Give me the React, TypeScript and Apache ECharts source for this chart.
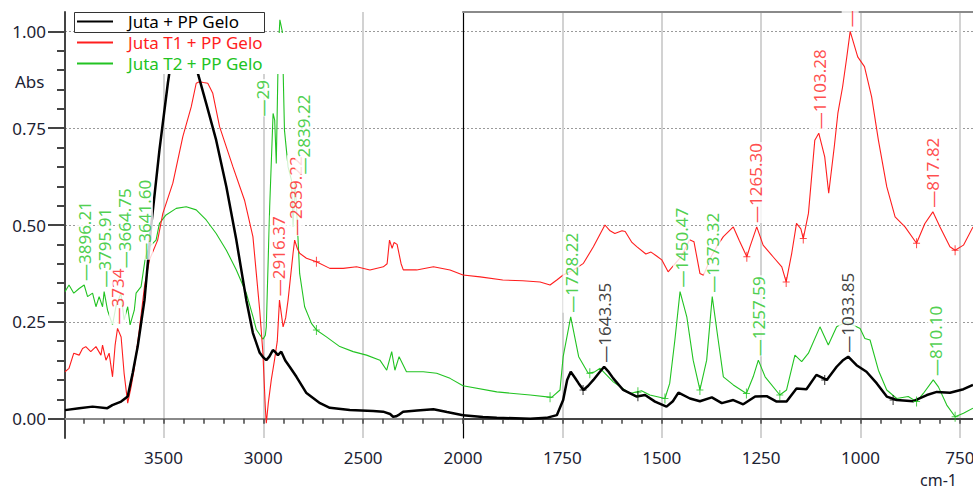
import React, { useEffect, useRef } from 'react';
import * as echarts from 'echarts';

const FONT = '"Noto Sans", "DejaVu Sans", sans-serif';
const BLACK = '#000000';
const RED = '#ff1e1e';
const GREEN = '#22c322';
const TEXT = '#1c2233';

const seriesNames = ['Juta + PP Gelo', 'Juta T1 + PP Gelo', 'Juta T2 + PP Gelo'];

// wavenumber (cm-1), absorbance
const jutaPP: number[][] = [
  [3993, 0.022], [3922, 0.027], [3855, 0.031], [3781, 0.027], [3756, 0.035], [3712, 0.044],
  [3679, 0.057], [3654, 0.118], [3629, 0.186], [3595, 0.306], [3562, 0.495], [3520, 0.694],
  [3478, 0.866], [3461, 0.926], [3440, 1.0], [3405, 1.04], [3370, 0.99], [3328, 0.892],
  [3286, 0.814], [3236, 0.719], [3185, 0.599], [3135, 0.461], [3085, 0.306], [3052, 0.221],
  [3018, 0.17], [3000, 0.158], [2985, 0.151], [2970, 0.16], [2952, 0.177], [2940, 0.172],
  [2927, 0.164], [2910, 0.173], [2890, 0.15], [2868, 0.134], [2834, 0.108], [2784, 0.066],
  [2716, 0.04], [2667, 0.028], [2567, 0.022], [2450, 0.02], [2400, 0.018], [2365, 0.012],
  [2350, 0.005], [2335, 0.006], [2324, 0.009], [2300, 0.018], [2230, 0.021], [2148, 0.024],
  [2080, 0.017], [2000, 0.009],
  [1950, 0.004], [1915, 0.002], [1831, 0.0], [1790, 0.002], [1764, 0.009], [1748, 0.048],
  [1738, 0.1], [1729, 0.121], [1718, 0.105], [1709, 0.091], [1697, 0.074], [1685, 0.085],
  [1672, 0.1], [1658, 0.118], [1645, 0.134], [1633, 0.12], [1622, 0.104], [1597, 0.074],
  [1563, 0.057], [1542, 0.061], [1517, 0.044], [1488, 0.031], [1472, 0.045], [1458, 0.067],
  [1429, 0.052], [1404, 0.045], [1374, 0.055], [1349, 0.04], [1320, 0.048], [1295, 0.037],
  [1265, 0.057], [1236, 0.058], [1211, 0.044], [1186, 0.044], [1161, 0.078], [1136, 0.076],
  [1111, 0.113], [1085, 0.1], [1060, 0.134], [1045, 0.15], [1031, 0.16], [1010, 0.138],
  [985, 0.121], [959, 0.091], [934, 0.057], [909, 0.048], [867, 0.045], [833, 0.061],
  [808, 0.069], [775, 0.067], [741, 0.076], [717, 0.087],
];

const jutaT1PP: number[][] = [
  [3993, 0.121], [3973, 0.13], [3949, 0.169], [3922, 0.164], [3905, 0.181], [3889, 0.186],
  [3864, 0.173], [3838, 0.186], [3813, 0.164], [3805, 0.19], [3788, 0.151], [3772, 0.169],
  [3755, 0.108], [3742, 0.19], [3730, 0.233], [3712, 0.211], [3697, 0.117], [3679, 0.04],
  [3662, 0.082], [3646, 0.13], [3621, 0.229], [3595, 0.341], [3570, 0.41], [3529, 0.461],
  [3503, 0.53], [3453, 0.608], [3403, 0.728], [3361, 0.805], [3336, 0.866], [3320, 0.87],
  [3300, 0.868], [3278, 0.866], [3253, 0.84], [3219, 0.754], [3152, 0.65], [3094, 0.564],
  [3052, 0.47], [3035, 0.375], [3018, 0.28], [3002, 0.17], [2990, 0.03], [2985, -0.012],
  [2975, 0.04], [2960, 0.1], [2944, 0.151], [2930, 0.2], [2919, 0.306], [2901, 0.237],
  [2888, 0.26], [2876, 0.306], [2851, 0.427], [2843, 0.461], [2830, 0.44], [2818, 0.427],
  [2784, 0.414], [2734, 0.405], [2667, 0.388], [2600, 0.388], [2533, 0.392], [2466, 0.384],
  [2399, 0.392], [2380, 0.4], [2368, 0.461], [2355, 0.44], [2345, 0.455], [2330, 0.45],
  [2310, 0.4], [2299, 0.384], [2232, 0.384], [2148, 0.392], [2065, 0.384], [2000, 0.371],
  [1957, 0.366], [1900, 0.358], [1850, 0.356], [1806, 0.353], [1781, 0.345], [1764, 0.358],
  [1748, 0.371], [1720, 0.385], [1697, 0.401], [1672, 0.444], [1643, 0.5], [1630, 0.485],
  [1618, 0.478], [1600, 0.485], [1592, 0.483], [1575, 0.455], [1563, 0.444], [1540, 0.425],
  [1527, 0.43], [1513, 0.42], [1500, 0.41], [1484, 0.379], [1450, 0.42], [1430, 0.462],
  [1419, 0.457], [1404, 0.375], [1395, 0.37], [1375, 0.42], [1358, 0.45], [1345, 0.47],
  [1320, 0.495], [1305, 0.46], [1286, 0.418], [1278, 0.444], [1261, 0.495], [1245, 0.448],
  [1220, 0.418], [1198, 0.392], [1187, 0.353], [1173, 0.427], [1161, 0.504], [1150, 0.49],
  [1144, 0.465], [1131, 0.53], [1115, 0.719], [1105, 0.737], [1090, 0.676], [1080, 0.582],
  [1066, 0.702], [1057, 0.788], [1045, 0.857], [1035, 0.93], [1026, 1.0], [1007, 0.934],
  [990, 0.909], [972, 0.831], [955, 0.719], [934, 0.599], [913, 0.521], [888, 0.495],
  [859, 0.453], [838, 0.504], [818, 0.534], [800, 0.495], [775, 0.444], [762, 0.435],
  [741, 0.448], [717, 0.495],
];

const jutaT2PP: number[][] = [
  [3993, 0.328], [3973, 0.345], [3949, 0.324], [3922, 0.336], [3897, 0.345], [3880, 0.315],
  [3855, 0.324], [3838, 0.289], [3822, 0.315], [3805, 0.289], [3797, 0.328], [3780, 0.28],
  [3755, 0.242], [3738, 0.289], [3713, 0.324], [3697, 0.255], [3679, 0.289], [3667, 0.242],
  [3646, 0.28], [3637, 0.324], [3612, 0.341], [3590, 0.418], [3570, 0.444], [3537, 0.461],
  [3520, 0.504], [3487, 0.526], [3436, 0.543], [3386, 0.547], [3336, 0.539], [3286, 0.513],
  [3236, 0.478], [3185, 0.435], [3135, 0.384], [3085, 0.324], [3050, 0.26], [3035, 0.23],
  [3002, 0.205], [2990, 0.215], [2985, 0.237], [2968, 0.547], [2951, 0.788], [2943, 0.771],
  [2935, 0.659], [2925, 0.95], [2917, 1.03], [2905, 1.0], [2894, 0.745], [2876, 0.65],
  [2859, 0.616], [2851, 0.495], [2841, 0.608], [2834, 0.55], [2818, 0.375], [2793, 0.289],
  [2759, 0.246], [2734, 0.229], [2684, 0.211], [2617, 0.186], [2550, 0.173], [2483, 0.164],
  [2416, 0.151], [2382, 0.125], [2357, 0.173], [2341, 0.125], [2320, 0.16], [2283, 0.121],
  [2199, 0.121], [2132, 0.117], [2065, 0.104], [2000, 0.085],
  [1915, 0.069], [1831, 0.061], [1777, 0.055], [1756, 0.074], [1748, 0.16], [1729, 0.263],
  [1709, 0.16], [1685, 0.117], [1670, 0.12], [1655, 0.13], [1622, 0.095], [1580, 0.065],
  [1551, 0.072], [1530, 0.061], [1492, 0.052], [1480, 0.091], [1467, 0.203], [1454, 0.328],
  [1437, 0.263], [1421, 0.151], [1404, 0.074], [1387, 0.151], [1373, 0.315], [1358, 0.203],
  [1345, 0.108], [1320, 0.087], [1287, 0.065], [1270, 0.108], [1257, 0.151], [1240, 0.108],
  [1203, 0.061], [1186, 0.074], [1165, 0.164], [1148, 0.147], [1131, 0.169], [1102, 0.237],
  [1081, 0.19], [1060, 0.237], [1035, 0.25], [1001, 0.233], [989, 0.207], [976, 0.203],
  [955, 0.125], [934, 0.074], [909, 0.052], [880, 0.057], [859, 0.044], [842, 0.065],
  [817, 0.1], [804, 0.082], [783, 0.035], [762, 0.005], [741, 0.014], [717, 0.027],
];

// peak labels: [anchor wavenumber, anchor absorbance, text]
const peaksJuta: [number, number, string][] = [
  [1643.35, 0.134, '1643.35'],
  [1033.85, 0.16, '1033.85'],
];
const peaksT1: [number, number, string][] = [
  [3730, 0.233, '3734'],
  [2925, 0.306, '2916.37'],
  [2839.22, 0.461, '2839.22'],
  [1265.3, 0.495, '1265.30'],
  [1103.28, 0.737, '1103.28'],
  [817.82, 0.534, '817.82'],
  [1026, 1.0, ''],
];
const peaksT2: [number, number, string][] = [
  [3896.21, 0.345, '3896.21'],
  [3795.91, 0.328, '3795.91'],
  [3694, 0.378, '3664.75'],
  [3595, 0.4, '3641.60'],
  [3003, 0.77, '29'],
  [2797, 0.62, '2839.22'],
  [1728.22, 0.263, '1728.22'],
  [1450.47, 0.328, '1450.47'],
  [1373.32, 0.315, '1373.32'],
  [1257.59, 0.151, '1257.59'],
  [810.1, 0.1, '810.10'],
];

// baseline pick marks
const crossJuta: number[][] = [[1698, 0.074], [1560, 0.058], [1090, 0.1], [918, 0.048]];
const crossT1: number[][] = [[2734, 0.405], [1286, 0.418], [1187, 0.353], [1144, 0.465], [859, 0.453], [762, 0.435]];
const crossT2: number[][] = [[2734, 0.229], [1781, 0.055], [1681, 0.117], [1560, 0.068], [1492, 0.052], [1404, 0.074], [1287, 0.065], [1203, 0.061], [859, 0.044], [762, 0.005]];

const leftLabels = [2000, 2500, 3000, 3500];
const leftGrid = [2500, 3000, 3500];
const rightLabels = [750, 1000, 1250, 1500, 1750];
const rightGrid = [750, 1000, 1250, 1500, 1750];
const yLabels = [0, 0.25, 0.5, 0.75, 1.0];

const BREAK_WN = 2000;
const LEFT_MAX = 3993;
const RIGHT_MIN = 717;
const Y_MIN = -0.05;
const Y_MAX = 1.05;

function steps(a: number, b: number, s: number): number[] {
  const out: number[] = [];
  for (let v = a; v <= b + 1e-9; v += s) out.push(Math.round(v * 1000) / 1000);
  return out;
}

const leftTicks = steps(2000, 3900, 100);
const rightTicks = steps(750, 1950, 50);
const yMinorTicks = steps(0.05, 1.0, 0.05).filter((v) => Math.abs((v / 0.25) - Math.round(v / 0.25)) > 1e-6);

const left = (d: number[][]) => d.filter((p) => p[0] >= BREAK_WN);
const right = (d: number[][]) => d.filter((p) => p[0] <= BREAK_WN);

const PLUS = 'path://M3,0H4V10H3Z M0,4.5H7V5.5H0Z';

export default function App() {
  const ref = useRef<HTMLDivElement>(null);
  useEffect(() => {
    if (!ref.current) return;
    const chart = echarts.init(ref.current, null, { renderer: 'svg' });

    const spectra = [
      { name: seriesNames[0], data: jutaPP, color: BLACK, width: 2.5 },
      { name: seriesNames[1], data: jutaT1PP, color: RED, width: 1.1 },
      { name: seriesNames[2], data: jutaT2PP, color: GREEN, width: 1.1 },
    ];
    const series: any[] = [];
    [spectra[2], spectra[1], spectra[0]].forEach((s) => {
      [
        { d: left(s.data), xi: 0, yi: 0 },
        { d: right(s.data), xi: 2, yi: 2 },
      ].forEach((side) => {
        series.push({
          type: 'line',
          name: s.name,
          xAxisIndex: side.xi,
          yAxisIndex: side.yi,
          data: side.d,
          showSymbol: false,
          symbol: 'none',
          silent: true,
          z: 2,
          lineStyle: { color: s.color, width: s.width },
          itemStyle: { color: s.color },
        });
      });
    });

    const crossSets = [
      { d: crossT2, color: GREEN },
      { d: crossT1, color: RED },
      { d: crossJuta, color: BLACK },
    ];
    crossSets.forEach((c) => {
      [
        { d: left(c.d), xi: 0, yi: 0 },
        { d: right(c.d), xi: 2, yi: 2 },
      ].forEach((side) => {
        if (!side.d.length) return;
        series.push({
          type: 'scatter',
          xAxisIndex: side.xi,
          yAxisIndex: side.yi,
          data: side.d,
          symbol: PLUS,
          symbolSize: [7, 10],
          silent: true,
          z: 3,
          itemStyle: { color: c.color },
        });
      });
    });

    const labelSets = [
      { d: peaksT1, color: RED },
      { d: peaksT2, color: GREEN },
      { d: peaksJuta, color: '#111111' },
    ];
    labelSets.forEach((ls, k) => {
      [
        { d: ls.d.filter((p) => p[0] >= BREAK_WN), xi: 0, yi: 0 },
        { d: ls.d.filter((p) => p[0] < BREAK_WN), xi: 2, yi: 2 },
      ].forEach((side) => {
        if (!side.d.length) return;
        series.push({
          type: 'scatter',
          xAxisIndex: side.xi,
          yAxisIndex: side.yi,
          symbolSize: 0,
          silent: true,
          z: 4 + k,
          data: side.d.map((p) => ({ value: [p[0], p[1]], name: p[2] })),
          label: {
            show: true,
            position: 'top',
            distance: 4,
            rotate: 90,
            align: 'left',
            verticalAlign: 'middle',
            formatter: (pr: any) => '\u2014' + pr.name,
            color: ls.color,
            fontSize: 17,
            fontFamily: FONT,
            backgroundColor: '#ffffff',
            padding: [0, 1, 0, 0],
          },
        });
      });
    });

    const axisLabelStyle = { color: TEXT, fontSize: 17, fontFamily: FONT };
    const dotted = { show: true, lineStyle: { color: '#9a9a9a', width: 1, type: [2, 2] } };
    const vgrid = { show: true, lineStyle: { color: '#d2d2d2', width: 2 } };
    const plain = (v: number) => String(v);

    const option: any = {
      animation: false,
      backgroundColor: '#ffffff',
      grid: [
        { left: 65, right: 973 - 463, top: 12, bottom: 51, outerBoundsMode: 'none', containLabel: false },
        { left: 463, right: 0, top: 12, bottom: 51, outerBoundsMode: 'none', containLabel: false },
      ],
      xAxis: [
        {
          type: 'value', gridIndex: 0, position: 'bottom', inverse: true, min: BREAK_WN, max: LEFT_MAX,
          axisLine: { show: true, lineStyle: { color: '#444', width: 2 } },
          axisTick: { show: true, length: 5, customValues: leftTicks, lineStyle: { color: '#444', width: 1.5 } },
          axisLabel: { show: true, customValues: leftLabels, margin: 11, formatter: plain, showMinLabel: true, showMaxLabel: true, ...axisLabelStyle },
          splitLine: { show: false },
        },
        {
          type: 'value', gridIndex: 0, position: 'top', inverse: true, min: BREAK_WN, max: LEFT_MAX,
          axisLine: { show: true, lineStyle: { color: '#8a8a8a', width: 2 } },
          axisTick: { show: false, customValues: leftGrid },
          axisLabel: { show: false },
          splitLine: vgrid,
        },
        {
          type: 'value', gridIndex: 1, position: 'bottom', inverse: true, min: RIGHT_MIN, max: BREAK_WN,
          axisLine: { show: true, lineStyle: { color: '#444', width: 2 } },
          axisTick: { show: true, length: 5, customValues: rightTicks, lineStyle: { color: '#444', width: 1.5 } },
          axisLabel: { show: true, customValues: rightLabels, margin: 11, formatter: plain, showMinLabel: true, showMaxLabel: true, ...axisLabelStyle },
          splitLine: { show: false },
        },
        {
          type: 'value', gridIndex: 1, position: 'top', inverse: true, min: RIGHT_MIN, max: BREAK_WN,
          axisLine: { show: true, lineStyle: { color: '#8a8a8a', width: 2 } },
          axisTick: { show: false, customValues: rightGrid },
          axisLabel: { show: false },
          splitLine: vgrid,
        },
      ],
      yAxis: [
        {
          type: 'value', gridIndex: 0, position: 'left', min: Y_MIN, max: Y_MAX,
          axisLine: { show: true, lineStyle: { color: '#444', width: 2 } },
          axisTick: { show: true, length: 17, customValues: yLabels, lineStyle: { color: '#444', width: 2 } },
          axisLabel: { show: true, customValues: yLabels, margin: 19, formatter: (v: number) => v.toFixed(2), ...axisLabelStyle },
          splitLine: dotted,
        },
        {
          type: 'value', gridIndex: 0, position: 'left', min: Y_MIN, max: Y_MAX,
          axisLine: { show: false },
          axisTick: { show: true, length: 8, customValues: yMinorTicks, lineStyle: { color: '#444', width: 2 } },
          axisLabel: { show: false },
          splitLine: { show: false },
        },
        {
          type: 'value', gridIndex: 1, position: 'left', min: Y_MIN, max: Y_MAX,
          axisLine: { show: true, lineStyle: { color: '#000', width: 1.2 } },
          axisTick: { show: false, customValues: yLabels },
          axisLabel: { show: false },
          splitLine: dotted,
        },
      ],
      legend: {
        show: true,
        orient: 'vertical',
        left: 77,
        top: 13,
        padding: 0,
        itemGap: 4,
        itemWidth: 36,
        itemHeight: 2,
        icon: 'rect',
        z: 10,
        selectedMode: false,
        textStyle: { fontSize: 17, fontFamily: FONT, lineHeight: 17, padding: [0, 0, 0, 10] },
        data: [
          { name: seriesNames[0], textStyle: { color: BLACK }, itemStyle: { color: BLACK } },
          { name: seriesNames[1], textStyle: { color: RED }, itemStyle: { color: RED } },
          { name: seriesNames[2], textStyle: { color: GREEN }, itemStyle: { color: GREEN } },
        ],
      },
      graphic: [
        { type: 'rect', z: 9, shape: { x: 74.5, y: 33, width: 210, height: 41 }, style: { fill: '#ffffff' } },
        { type: 'rect', z: 9, shape: { x: 74.5, y: 12.5, width: 190, height: 20 }, style: { fill: '#ffffff', stroke: '#333333', lineWidth: 1 } },
        { type: 'text', z: 9, x: 15, y: 81, style: { text: 'Abs', fontSize: 17, fontFamily: FONT, fill: TEXT, verticalAlign: 'middle' } },
        { type: 'text', z: 9, x: 920, y: 480, style: { text: 'cm-1', fontSize: 16, fontFamily: FONT, fill: TEXT, verticalAlign: 'middle' } },
      ],
      series,
    };
    chart.setOption(option);
    return () => chart.dispose();
  }, []);
  return <div ref={ref} style={{ position: 'fixed', left: 0, top: 0, width: 973, height: 489, background: '#fff' }} />;
}
